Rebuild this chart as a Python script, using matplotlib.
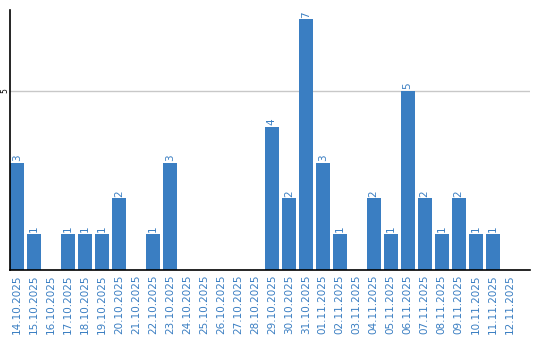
import matplotlib
matplotlib.use('Agg')
import matplotlib.pyplot as plt

dates = ['14.10.2025', '15.10.2025', '16.10.2025', '17.10.2025', '18.10.2025',
         '19.10.2025', '20.10.2025', '21.10.2025', '22.10.2025', '23.10.2025',
         '24.10.2025', '25.10.2025', '26.10.2025', '27.10.2025', '28.10.2025',
         '29.10.2025', '30.10.2025', '31.10.2025', '01.11.2025', '02.11.2025',
         '03.11.2025', '04.11.2025', '05.11.2025', '06.11.2025', '07.11.2025',
         '08.11.2025', '09.11.2025', '10.11.2025', '11.11.2025', '12.11.2025']
counts = [3, 1, 0, 1, 1, 1, 2, 0, 1, 3,
          0, 0, 0, 0, 0, 4, 2, 7, 3, 1,
          0, 2, 1, 5, 2, 1, 2, 1, 1, 0]

blue = '#3a7ec2'

fig = plt.figure(figsize=(5.4, 3.4), dpi=100)
ax = fig.add_axes([10/540, 70/340, 520/540, 260/340])

x = list(range(len(dates)))
ax.bar(x, counts, width=0.82, color=blue, zorder=2)

for i, v in enumerate(counts):
    if v > 0:
        ax.text(i, v + 0.05, str(v), rotation=90, ha='center', va='bottom',
                color=blue, fontsize=7.5)

ax.set_xlim(-0.41, 30.2)
ax.set_ylim(0, 7.26)
ax.set_xticks(x)
ax.set_xticklabels(dates, rotation=90, color=blue, fontsize=7.5)
ax.set_yticks([5])
ax.set_yticklabels(['5'], rotation=90, fontsize=5.5, va='center')
ax.tick_params(axis='x', length=0, pad=3)
ax.tick_params(axis='y', length=0, pad=0.5)
ax.yaxis.grid(True, color='#c8c8c8', linewidth=1, zorder=0)
ax.spines['top'].set_visible(False)
ax.spines['right'].set_visible(False)
ax.spines['left'].set_linewidth(1.2)
ax.spines['bottom'].set_linewidth(1.2)

fig.savefig('out.png', dpi=100)
